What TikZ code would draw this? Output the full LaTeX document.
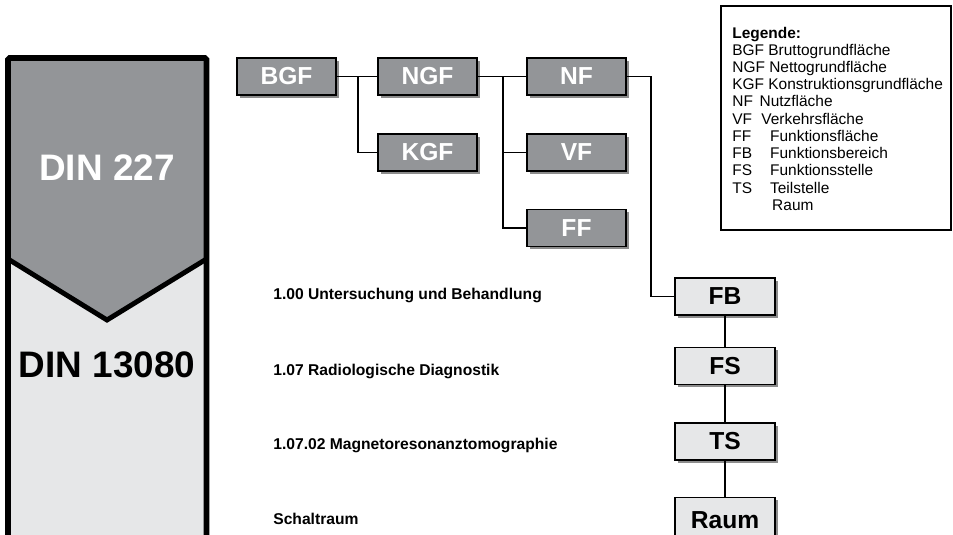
\documentclass[tikz,border=0pt]{standalone}
\usepackage{fontspec}
\setmainfont{Liberation Sans}
\usetikzlibrary{shapes,shadows}
\definecolor{dingray}{HTML}{939598}
\definecolor{dinlight}{HTML}{E6E7E8}
\tikzstyle{dbox}=[rectangle,draw=black,line width=0.8pt,fill=dingray,text=white,minimum width=1.98cm,minimum height=0.74cm,font=\bfseries\fontsize{14}{16}\selectfont,drop shadow={shadow xshift=1.6pt,shadow yshift=-1.6pt,fill=black!45,opacity=1}]
\tikzstyle{lbox}=[dbox,fill=dinlight,text=black,minimum width=2cm]
\tikzstyle{conn}=[line width=0.6pt]
\tikzstyle{stem}=[line width=1.1pt]
\tikzstyle{dinlabel}=[font=\bfseries\fontsize{21}{25}\selectfont]
\tikzstyle{levlabel}=[anchor=base west,inner sep=0pt,font=\bfseries\fontsize{8.9}{10}\selectfont]
\newcommand{\legkey}[2]{\makebox[#1][l]{#2}}

\begin{document}
\begin{tikzpicture}[x=0.02cm,y=-0.02cm]
\useasboundingbox (0,0) rectangle (953,534);
\clip (0,0) rectangle (953,534);
% DIN column
\fill[dinlight] (8,58) rectangle (206.5,560);
\fill[dingray] (8,58) -- (206.5,58) -- (206.5,259) -- (107,320) -- (8,259) -- cycle;
\draw[line width=2.8pt] (8,259) -- (107,320) -- (206.5,259);
\draw[line width=3.4pt,rounded corners=1pt] (8,560) -- (8,58) -- (206.5,58) -- (206.5,560);
\node[dinlabel,text=white] (din227) at (107,168) {DIN 227};
\node[dinlabel] (din13080) at (107,365) {DIN 13080};
% DIN 277 boxes
\node[dbox] (BGF) at (286.5,76.5) {BGF};
\node[dbox] (NGF) at (427.5,76.5) {NGF};
\node[dbox] (NF) at (576.5,76.5) {NF};
\node[dbox] (KGF) at (427.5,152.5) {KGF};
\node[dbox] (VF) at (576.5,152.5) {VF};
\node[dbox] (FF) at (576.5,228) {FF};
% DIN 13080 boxes
\node[lbox] (FB) at (725,296.5) {FB};
\node[lbox] (FS) at (725,366) {FS};
\node[lbox] (TS) at (725,441.5) {TS};
\node[lbox,minimum height=0.9cm] (Raum) at (725,520) {Raum};
\node[levlabel] (lev1) at (273,299.6) {1.00 Untersuchung und Behandlung};
\node[levlabel] (lev2) at (273,375.6) {1.07 Radiologische Diagnostik};
\node[levlabel] (lev3) at (273,449.6) {1.07.02 Magnetoresonanztomographie};
\node[levlabel] (lev4) at (273,524.6) {Schaltraum};
% connectors
\coordinate (jB) at (358,76.5);
\coordinate (jN) at (503,76.5);
\coordinate (jF) at (651,76.5);
\draw[stem](BGF)--(jB);\draw[conn](jB)--(NGF);\draw[conn](jB)|-(KGF);
\draw[stem](NGF)--(jN);\draw[conn](jN)--(NF);\draw[conn](jN)|-(VF);\draw[conn](jN)|-(FF);
\draw[conn](NF)--(jF)|-(FB);
\draw[conn](FB)--(FS);\draw[conn](FS)--(TS);\draw[conn](TS)--(Raum);
% legend
\node[draw=black,line width=0.8pt,minimum width=4.6cm,minimum height=4.48cm] (legend) at (836,118) {};
\node[anchor=north west,inner sep=0pt,align=left,font=\fontsize{8.8}{9.8}\selectfont] (legtext) at (732,26.5) {\textbf{Legende:}\\
BGF Bruttogrundfläche\\
NGF Nettogrundfläche\\
KGF Konstruktionsgrundfläche\\
\legkey{15.5pt}{NF}Nutzfläche\\
\legkey{16.5pt}{VF}Verkehrsfläche\\
\legkey{21.5pt}{FF}Funktionsfläche\\
\legkey{21.5pt}{FB}Funktionsbereich\\
\legkey{21.5pt}{FS}Funktionsstelle\\
\legkey{21.5pt}{TS}Teilstelle\\
\hspace*{22.7pt}Raum};
\end{tikzpicture}
\end{document}
